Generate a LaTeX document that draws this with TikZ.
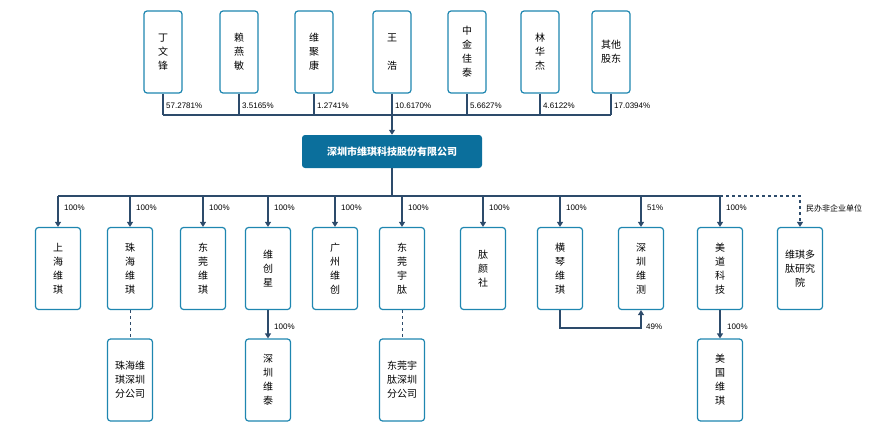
\documentclass[tikz,border=0pt]{standalone}
\usepackage{fontspec}
\setmainfont{Liberation Sans}
\newfontfamily\cjk{Noto Sans CJK SC}
\usetikzlibrary{arrows.meta}
\definecolor{bd}{HTML}{1E86B0}
\definecolor{ln}{HTML}{2D4B6B}
\definecolor{mainc}{HTML}{0B6F9C}
\begin{document}
\begin{tikzpicture}[x=1pt,y=-1pt,
 box/.style={draw=bd,line width=1.2pt,rounded corners=3pt,fill=white,minimum width=38pt,minimum height=82pt,align=center,font=\cjk\fontsize{10}{14}\selectfont},
 bbox/.style={box,minimum width=45pt},
 ln/.style={draw=ln,line width=1.5pt},
 arr/.style={ln,-{Triangle[length=5pt,width=6pt]}},
 pct/.style={font=\fontsize{8}{9}\selectfont,anchor=west,inner sep=1pt}]
\useasboundingbox (0,0) rectangle (894,428);
% shareholders
\foreach \n/\x/\t/\p in {a/163/丁\\文\\锋/57.2781\%, b/239/赖\\燕\\敏/3.5165\%, c/314/维\\聚\\康/1.2741\%, d/392/王\\\\浩/10.6170\%, e/467/中\\金\\佳\\泰/5.6627\%, f/540/林\\华\\杰/4.6122\%, g/611/其他\\股东/17.0394\%}{
 \node[box] (\n) at (\x,52) {\t};
 \draw[ln] (\n.south) -- (\x,115);
 \node[pct] at (\x+2,106) {\p};
}
\draw[ln] (163,115) -- (611,115);
\node[draw=none,fill=mainc,rounded corners=3pt,minimum width=180pt,minimum height=33pt,text=white,font=\cjk\bfseries\fontsize{10}{12}\selectfont] (m) at (392,151.5) {深圳市维琪科技股份有限公司};
\draw[arr] (392,115) -- (m.north);
\coordinate (bus) at (392,196);
\draw[ln] (m.south) -- (bus);
\draw[ln] (58,196) -- (720,196);
\foreach \n/\x/\t/\p in {s1/58/上\\海\\维\\琪/100\%, s2/130/珠\\海\\维\\琪/100\%, s3/203/东\\莞\\维\\琪/100\%, s4/268/维\\创\\星/100\%, s5/335/广\\州\\维\\创/100\%, s6/402/东\\莞\\宇\\肽/100\%, s7/483/肽\\颜\\社/100\%, s8/560/横\\琴\\维\\琪/100\%, s9/641/深\\圳\\维\\测/51\%, s10/720/美\\道\\科\\技/100\%}{
 \node[bbox] (\n) at (\x,268.5) {\t};
 \draw[arr] (\x,196) -- (\n.north);
 \node[pct] at (\x+5,208) {\p};
}
\node[bbox] (s11) at (800,268.5) {维琪多\\肽研究\\院};
\draw[ln,dashed,-{Triangle[length=5pt,width=6pt]}] (720,196) -| (s11.north);
\node[font=\cjk\fontsize{8}{9}\selectfont,anchor=west,inner sep=1pt] at (805,208) {民办非企业单位};
% second level
\node[bbox] (t1) at (130,380) {珠海维\\琪深圳\\分公司};
\draw[ln,line width=0.8pt,dashed] (s2.south) -- (t1.north);
\node[bbox] (t2) at (268,380) {深\\圳\\维\\泰};
\draw[arr] (s4.south) -- (t2.north);
\node[pct] at (273,327) {100\%};
\node[bbox] (t3) at (402,380) {东莞宇\\肽深圳\\分公司};
\draw[ln,line width=0.8pt,dashed] (s6.south) -- (t3.north);
\node[bbox] (t4) at (720,380) {美\\国\\维\\琪};
\draw[arr] (s10.south) -- (t4.north);
\node[pct] at (726,327) {100\%};
\draw[ln,-{Triangle[length=5pt,width=6pt]}] (s8.south) -- (560,328) -- (641,328) -- (s9.south);
\node[pct] at (645,327) {49\%};
\end{tikzpicture}
\end{document}
